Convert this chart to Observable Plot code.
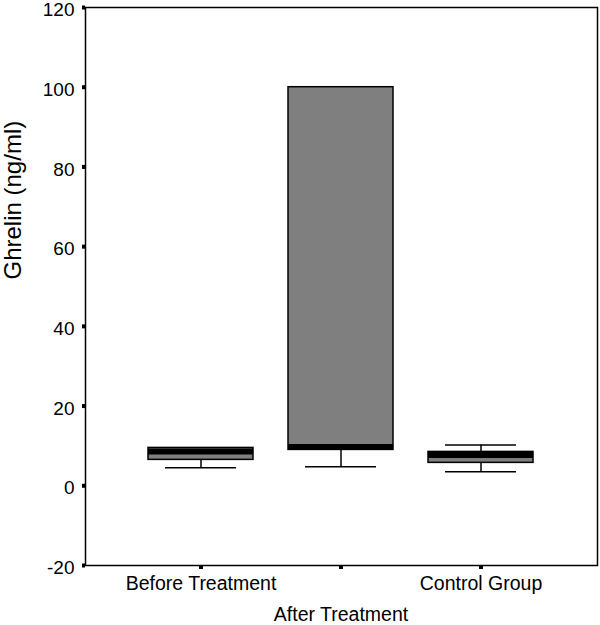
<!DOCTYPE html>
<html>
<head>
<meta charset="utf-8">
<script src="https://cdn.jsdelivr.net/npm/d3@7"></script>
<script src="https://cdn.jsdelivr.net/npm/@observablehq/plot@0.6"></script>
<style>
  html, body { margin: 0; padding: 0; background: #fff; }
  #chart { width: 600px; height: 625px; }
</style>
</head>
<body>
<div id="chart"></div>
<script>
const groups = ["Before Treatment", "After Treatment", "Control Group"];
const lowerWhisker = [4.5, 4.75, 3.5];
const q1 = [6.5, 9, 5.75];
const median = [8.6, 9.75, 7.75];
const q3 = [9.5, 100, 8.5];
const upperWhisker = [9.5, 100, 10.25];
const yTicks = [-20, 0, 20, 40, 60, 80, 100, 120];

const data = groups.map((g, i) => ({
  group: g, lo: lowerWhisker[i], q1: q1[i], med: median[i], q3: q3[i], hi: upperWhisker[i]
}));

const font = "Liberation Sans, Arial, sans-serif";

const chart = Plot.plot({
  width: 600,
  height: 625,
  marginLeft: 85,
  marginRight: 3,
  marginTop: 7,
  marginBottom: 60,
  style: { fontFamily: font, color: "#000", background: "#fff", overflow: "visible" },
  x: { type: "band", domain: groups, paddingInner: 0.248, paddingOuter: 0.44, label: null },
  y: { domain: [-20, 120], label: null },
  marks: [
    Plot.ruleX(data, { x: "group", y1: "lo", y2: "q1", stroke: "#000", strokeWidth: 1.5 }),
    Plot.ruleX(data, { x: "group", y1: "q3", y2: "hi", stroke: "#000", strokeWidth: 1.5 }),
    Plot.tickY(data.filter(d => d.lo < d.q1), { x: "group", y: "lo", stroke: "#000", strokeWidth: 1.5, insetLeft: 17, insetRight: 17 }),
    Plot.tickY(data.filter(d => d.hi > d.q3), { x: "group", y: "hi", stroke: "#000", strokeWidth: 1.5, insetLeft: 17, insetRight: 17 }),
    Plot.rect(data, { x: "group", y1: "q1", y2: "q3", fill: "#7f7f7f", stroke: "#000", strokeWidth: 1.5 }),
    Plot.tickY(data, { x: "group", y: "med", stroke: "#000", strokeWidth: 6 }),
    Plot.frame({ stroke: "#000", strokeWidth: 1.5 }),
    Plot.axisY({ ticks: yTicks, tickSize: 3, strokeWidth: 4, text: null, label: null }),
    Plot.axisY({ ticks: yTicks, tickSize: 0, tickPadding: 11, dy: 2.5, fontSize: 19, label: null, tickFormat: d => String(d) }),
    Plot.axisX({ ticks: groups, tickSize: 4, strokeWidth: 4, tickPadding: 7, fontSize: 19.5, label: null,
      tickFormat: d => (d === "After Treatment" ? "" : d) }),
    Plot.axisX({ ticks: ["After Treatment"], tickSize: 0, tickPadding: 11, fontSize: 19.5, label: null, dy: 31 }),
    Plot.text(["Ghrelin (ng/ml)"], { frameAnchor: "left", rotate: -90, dx: -72, dy: -7, fontSize: 24, text: d => d, fill: "#000" })
  ]
});

document.getElementById("chart").appendChild(chart);
</script>
</body>
</html>
